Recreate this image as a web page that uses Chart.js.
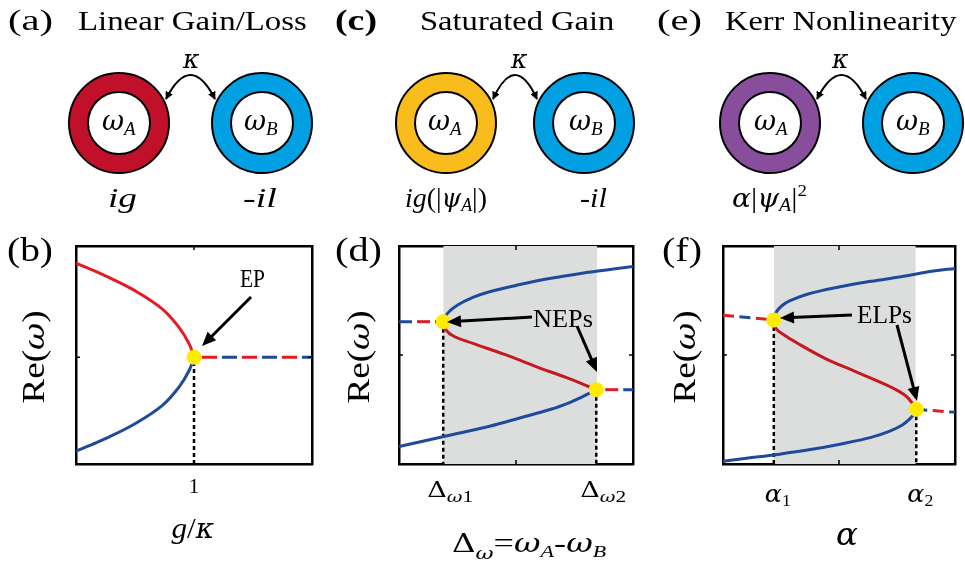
<!DOCTYPE html>
<html>
<head>
<meta charset="utf-8">
<script src="https://cdn.jsdelivr.net/npm/chart.js"></script>
<style>
html, body { margin: 0; padding: 0; background: #fff; }
#wrap { position: relative; width: 965px; height: 563px; overflow: hidden; }
canvas, svg { position: absolute; left: 0; top: 0; }
text { font-family: "Liberation Serif", "Times New Roman", serif; fill: #000; }
</style>
</head>
<body>
<div id="wrap">
  <canvas id="chartB" width="965" height="563"></canvas>
  <canvas id="chartD" width="965" height="563"></canvas>
  <canvas id="chartF" width="965" height="563"></canvas>
  <svg id="art" width="965" height="563" xmlns="http://www.w3.org/2000/svg">
    <defs>
      <marker id="ah" viewBox="0 0 10 10" refX="9" refY="5" markerWidth="4" markerHeight="4" orient="auto-start-reverse">
        <path d="M0,0 L10,5 L0,10 z" fill="#000"/>
      </marker>
    </defs>
  </svg>
</div>
<script>
// ---- panel (b): linear gain / loss, x = g/kappa ----
var bX     = [0, 0.254, 0.492, 0.73, 0.873, 0.96, 1.0];
var bRedY  = [0.863, 0.744, 0.615, 0.444, 0.274, 0.12, 0];
var bBlueY = [-0.863, -0.744, -0.615, -0.444, -0.274, -0.12, 0];
var bDashX = [1, 2];
var bDashY = [0, 0];
var bMarkX = [1];
var bMarkY = [0];
var bTicks = [1];

// ---- panel (d): saturated gain ----
var dUpperX = [0.189, 0.208, 0.249, 0.316, 0.383, 0.516, 0.649, 0.783, 0.916, 1.0];
var dUpperY = [0.653, 0.692, 0.728, 0.764, 0.789, 0.823, 0.852, 0.875, 0.894, 0.906];
var dRedX   = [0.189, 0.2, 0.236, 0.316, 0.448, 0.583, 0.716, 0.783, 0.823, 0.843];
var dRedY   = [0.653, 0.615, 0.585, 0.553, 0.504, 0.448, 0.396, 0.368, 0.349, 0.341];
var dLowerX = [0, 0.116, 0.249, 0.383, 0.516, 0.649, 0.729, 0.783, 0.82, 0.843];
var dLowerY = [0.08, 0.108, 0.14, 0.172, 0.211, 0.251, 0.282, 0.308, 0.328, 0.341];
var dLeftX  = [0, 0.189];
var dLeftY  = [0.653, 0.653];
var dRightX = [0.843, 1];
var dRightY = [0.341, 0.341];
var dMarkX  = [0.189, 0.843];
var dMarkY  = [0.653, 0.341];
var dShade  = [0.189, 0.847];
var dTicks  = [0.189, 0.843];

// ---- panel (f): Kerr nonlinearity ----
var fUpperX = [0.219, 0.23, 0.254, 0.289, 0.37, 0.504, 0.638, 0.773, 0.907, 1.0];
var fUpperY = [0.661, 0.697, 0.726, 0.749, 0.781, 0.813, 0.838, 0.86, 0.885, 0.897];
var fRedX   = [0.219, 0.229, 0.262, 0.316, 0.437, 0.571, 0.706, 0.759, 0.793, 0.82, 0.833];
var fRedY   = [0.661, 0.621, 0.593, 0.557, 0.486, 0.424, 0.362, 0.333, 0.308, 0.272, 0.251];
var fLowerX = [0, 0.101, 0.235, 0.37, 0.504, 0.638, 0.719, 0.773, 0.806, 0.825, 0.833];
var fLowerY = [0.012, 0.026, 0.044, 0.065, 0.091, 0.122, 0.151, 0.179, 0.208, 0.232, 0.251];
var fLeftX  = [0, 0.219];
var fLeftY  = [0.682, 0.661];
var fRightX = [0.833, 1];
var fRightY = [0.251, 0.237];
var fMarkX  = [0.219, 0.833];
var fMarkY  = [0.661, 0.251];
var fShade  = [0.219, 0.831];
var fTicks  = [0.219, 0.833];

var BLUE = '#1f4a9c';
var RED_B = '#e31b23';
var RED = '#c51a20';
var RED_DASH = '#dd1f27';
var YELLOW = '#ffeb00';
var SHADE = '#dcdddd';

function pts(xs, ys) {
    return xs.map(function (x, i) { return { x: x, y: ys[i] }; });
}
function curve(xs, ys, color) {
    return { data: pts(xs, ys), borderColor: color, borderWidth: 3, pointRadius: 0, showLine: true,
        tension: 0.38, order: 2 };
}
function dashed(xs, ys, color, pattern, offset) {
    return { data: pts(xs, ys), borderColor: color, borderWidth: 3, pointRadius: 0, showLine: true,
        borderDash: pattern, borderDashOffset: offset, borderCapStyle: 'butt', order: 3 };
}
function dotted(x, y) {
    return { data: pts([x, x], [y, 0]), borderColor: '#000', borderWidth: 2.5, pointRadius: 0, showLine: true,
        borderDash: [4, 3], borderCapStyle: 'butt', order: 4 };
}
function marks(xs, ys) {
    return { data: pts(xs, ys), pointRadius: 7.5, pointBackgroundColor: YELLOW, pointBorderWidth: 0,
        showLine: false, order: 0 };
}
function shade(range, top) {
    return { data: pts(range, [top, top]), borderWidth: 0, pointRadius: 0, showLine: true,
        fill: 'start', backgroundColor: SHADE, order: 9 };
}

// little inward tick marks on all four sides, MATLAB style
var innerTicks = {
    id: 'innerTicks',
    afterDraw: function (chart, args, opts) {
        var ctx = chart.ctx, a = chart.chartArea;
        ctx.save();
        ctx.strokeStyle = '#000';
        ctx.lineWidth = 1.5;
        ctx.beginPath();
        (opts.x || []).forEach(function (v) {
            var px = chart.scales.x.getPixelForValue(v);
            ctx.moveTo(px, a.bottom); ctx.lineTo(px, a.bottom - 4);
            ctx.moveTo(px, a.top); ctx.lineTo(px, a.top + 4);
        });
        (opts.y || []).forEach(function (v) {
            var py = chart.scales.y.getPixelForValue(v);
            ctx.moveTo(a.left, py); ctx.lineTo(a.left + 4, py);
            ctx.moveTo(a.right, py); ctx.lineTo(a.right - 4, py);
        });
        ctx.stroke();
        ctx.restore();
    }
};

function axis(pos, min, max) {
    return { type: 'linear', position: pos, min: min, max: max,
        ticks: { display: false }, grid: { display: false },
        border: { display: true, color: '#000', width: 2.5 } };
}

function makePanel(id, pad, xr, yr, tickX, tickY, datasets) {
    return new Chart(document.getElementById(id), {
        type: 'scatter',
        data: { datasets: datasets },
        options: {
            responsive: false,
            animation: false,
            devicePixelRatio: 1,
            events: [],
            layout: { padding: pad },
            scales: {
                x: axis('bottom', xr[0], xr[1]),
                y: axis('left', yr[0], yr[1]),
                xTop: axis('top', xr[0], xr[1]),
                yRight: axis('right', yr[0], yr[1])
            },
            plugins: { legend: { display: false }, tooltip: { enabled: false },
                innerTicks: { x: [tickX], y: [tickY] } }
        },
        plugins: [innerTicks]
    });
}

var chartB = makePanel('chartB', { left: 68, right: 645, top: 238, bottom: 91 }, [0, 2], [-0.98, 1.02], 1, 0, [
    marks(bMarkX, bMarkY),
    curve(bX, bRedY, RED_B),
    curve(bX, bBlueY, BLUE),
    dashed(bDashX, bDashY, RED_B, [15, 25], 32),
    dashed(bDashX, bDashY, BLUE, [15, 25], 12),
    dotted(bMarkX[0], -0.98)
]);

var chartD = makePanel('chartD', { left: 391, right: 324, top: 238, bottom: 91 }, [0, 1], [0, 1], 0.5, 0.5, [
    marks(dMarkX, dMarkY),
    curve(dUpperX, dUpperY, BLUE),
    curve(dRedX, dRedY, RED),
    curve(dLowerX, dLowerY, BLUE),
    dashed(dLeftX, dLeftY, BLUE, [13, 23], 0),
    dashed(dLeftX, dLeftY, RED_DASH, [13, 23], 18),
    dashed(dRightX, dRightY, RED_DASH, [13, 23], 27),
    dashed(dRightX, dRightY, BLUE, [13, 23], 9),
    dotted(dMarkX[0], dMarkY[0]),
    dotted(dMarkX[1], dMarkY[1]),
    shade(dShade, 1)
]);

var chartF = makePanel('chartF', { left: 715, right: 2, top: 238, bottom: 91 }, [0, 1], [0, 1], 0.5, 0.5, [
    marks(fMarkX, fMarkY),
    curve(fUpperX, fUpperY, BLUE),
    curve(fRedX, fRedY, RED),
    curve(fLowerX, fLowerY, BLUE),
    dashed(fLeftX, fLeftY, RED_DASH, [11, 22], 0),
    dashed(fLeftX, fLeftY, BLUE, [11, 22], 16.5),
    dashed(fRightX, fRightY, BLUE, [11, 22], 0),
    dashed(fRightX, fRightY, RED_DASH, [11, 22], 16.5),
    dotted(fMarkX[0], fMarkY[0]),
    dotted(fMarkX[1], fMarkY[1]),
    shade(fShade, 1)
]);

// ---- svg drawing: rings, arrows, text ----
var SVGNS = 'http://www.w3.org/2000/svg';
var art = document.getElementById('art');
var GREEK = /[\u0370-\u03ff]/;

function el(name, attrs) {
    var e = document.createElementNS(SVGNS, name);
    for (var k in attrs) e.setAttribute(k, attrs[k]);
    art.appendChild(e);
    return e;
}

function ring(cx, cy, color) {
    el('circle', { cx: cx, cy: cy, r: 50, fill: color, stroke: '#000', 'stroke-width': 2 });
    el('circle', { cx: cx, cy: cy, r: 31, fill: '#fff', stroke: '#000', 'stroke-width': 2 });
}

function coupling(x1, x2, y) {
    var mx = (x1 + x2) / 2;
    el('path', { d: 'M' + x1 + ',' + y + ' Q' + mx + ',' + (y - 48) + ' ' + x2 + ',' + y,
        fill: 'none', stroke: '#000', 'stroke-width': 2,
        'marker-start': 'url(#ah)', 'marker-end': 'url(#ah)' });
}

function arrow(x1, y1, x2, y2) {
    var dx = x2 - x1, dy = y2 - y1, L = Math.sqrt(dx * dx + dy * dy);
    var ux = dx / L, uy = dy / L, hl = 14, hw = 6;
    el('line', { x1: x1, y1: y1, x2: x2 - ux * (hl - 3), y2: y2 - uy * (hl - 3), stroke: '#000', 'stroke-width': 3 });
    var bx = x2 - ux * hl, by = y2 - uy * hl;
    el('polygon', { points: [x2, y2, bx - uy * hw, by + ux * hw, bx + uy * hw, by - ux * hw].join(','), fill: '#000' });
}

function addText(spec) {
    var g = el('g', {});
    var t = document.createElementNS(SVGNS, 'text');
    var shift = 0;
    spec.parts.forEach(function (p) {
        var s = document.createElementNS(SVGNS, 'tspan');
        var size = p.s || spec.size;
        s.textContent = p.t;
        if (GREEK.test(p.t)) {
            s.setAttribute('font-family', '"DejaVu Serif", serif');
            size = size * 0.9;
        }
        s.setAttribute('font-size', size);
        if (p.i) s.setAttribute('font-style', 'italic');
        if (p.b) s.setAttribute('font-weight', 'bold');
        var d = (p.dy || 0) - shift;
        if (d) s.setAttribute('dy', d);
        shift = p.dy || 0;
        t.appendChild(s);
    });
    g.appendChild(t);
    var w = t.getBBox().width;
    var target = spec.x1 !== undefined ? spec.x1 - spec.x0 : (spec.w || w);
    var sx = target / w;
    if (spec.rot) {
        g.setAttribute('transform', 'translate(' + spec.bx + ',' + spec.cy + ') rotate(-90) translate(' + (-target / 2) + ',0) scale(' + sx + ',1)');
    } else {
        var left = spec.x0 !== undefined ? spec.x0 : spec.cx - target / 2;
        g.setAttribute('transform', 'translate(' + left + ',' + spec.base + ') scale(' + sx + ',1)');
    }
}

ring(119, 123, '#c1112a'); ring(262, 123, '#00a0e3');
ring(446, 123, '#f8bd1c'); ring(584, 123, '#00a0e3');
ring(770, 123, '#894e9b'); ring(913, 123, '#00a0e3');
coupling(166, 215, 99);
coupling(493, 537, 99);
coupling(817, 866, 99);

arrow(251, 297, 202, 346);
arrow(532, 317, 447, 322);
arrow(577, 326, 597, 372);
arrow(852, 315, 780, 318);
arrow(897, 325, 917, 401);

var wA = function (cx) { return { cx: cx, base: 130, size: 30, parts: [{ t: 'ω', i: 1 }, { t: 'A', i: 1, s: 19, dy: 5 }] }; };
var wB = function (cx) { return { cx: cx, base: 130, size: 30, parts: [{ t: 'ω', i: 1 }, { t: 'B', i: 1, s: 19, dy: 5 }] }; };
var reW = function (bx) { return { rot: 1, bx: bx, cy: 357, x0: 0, x1: 93, size: 31,
    parts: [{ t: 'Re(' }, { t: 'ω', i: 1 }, { t: ')' }] }; };

[
    { x0: 8, x1: 53, base: 30, size: 29, parts: [{ t: '(a)' }] },
    { x0: 78, x1: 307, base: 30, size: 27, parts: [{ t: 'Linear Gain/Loss' }] },
    { x0: 335, x1: 377, base: 30, size: 29, parts: [{ t: '(c)', b: 1 }] },
    { x0: 420, x1: 615, base: 30, size: 27, parts: [{ t: 'Saturated Gain' }] },
    { x0: 657, x1: 702, base: 30, size: 29, parts: [{ t: '(e)' }] },
    { x0: 725, x1: 957, base: 30, size: 27, parts: [{ t: 'Kerr Nonlinearity' }] },
    { cx: 192, base: 68, size: 28, parts: [{ t: 'κ', i: 1 }] },
    { cx: 520, base: 68, size: 28, parts: [{ t: 'κ', i: 1 }] },
    { cx: 841, base: 68, size: 28, parts: [{ t: 'κ', i: 1 }] },
    wA(119), wB(261), wA(445), wB(586), wA(771), wB(913),
    { x0: 108, x1: 137, base: 207, size: 28, parts: [{ t: 'ig', i: 1 }] },
    { x0: 243, x1: 277, base: 207, size: 28, parts: [{ t: '-il', i: 1 }] },
    { x0: 405, x1: 487, base: 207, size: 28, parts: [{ t: 'ig', i: 1 }, { t: '(|' }, { t: 'ψ', i: 1 },
        { t: 'A', i: 1, s: 18, dy: 4 }, { t: '|)' }] },
    { x0: 580, x1: 607, base: 207, size: 28, parts: [{ t: '-il', i: 1 }] },
    { x0: 732, x1: 807, base: 207, size: 28, parts: [{ t: 'α', i: 1 }, { t: '|' }, { t: 'ψ', i: 1 },
        { t: 'A', i: 1, s: 18, dy: 4 }, { t: '|' }, { t: '2', s: 17, dy: -11 }] },
    { x0: 7, x1: 53, base: 261, size: 33, parts: [{ t: '(b)' }] },
    { x0: 335, x1: 382, base: 261, size: 33, parts: [{ t: '(d)' }] },
    { x0: 662, x1: 702, base: 261, size: 33, parts: [{ t: '(f)' }] },
    reW(44), reW(369), reW(695),
    { x0: 240, x1: 265, base: 287, size: 25, parts: [{ t: 'EP' }] },
    { x0: 533, x1: 593, base: 327, size: 25, parts: [{ t: 'NEPs' }] },
    { x0: 857, x1: 912, base: 323, size: 25, parts: [{ t: 'ELPs' }] },
    { cx: 193, w: 43, base: 538, size: 30, parts: [{ t: 'g', i: 1 }, { t: '/' }, { t: 'κ', i: 1 }] },
    { cx: 847, base: 545, size: 36, parts: [{ t: 'α', i: 1 }] },
    { x0: 452, x1: 607, base: 552, size: 28, parts: [{ t: 'Δ' }, { t: 'ω', i: 1, s: 19, dy: 7 },
        { t: '=' }, { t: 'ω', i: 1 }, { t: 'A', i: 1, s: 17, dy: 5 }, { t: '-' },
        { t: 'ω', i: 1 }, { t: 'B', i: 1, s: 17, dy: 5 }] }
].forEach(addText);

// tick labels placed from the chart scales
bTicks.forEach(function (v) {
    addText({ cx: chartB.scales.x.getPixelForValue(v), base: 493, size: 21, parts: [{ t: '1' }] });
});
dTicks.forEach(function (v, i) {
    addText({ cx: chartD.scales.x.getPixelForValue(v) + 7, w: 46, base: 497, size: 24,
        parts: [{ t: 'Δ' }, { t: 'ω', i: 1, s: 17, dy: 5 }, { t: String(i + 1), s: 17, dy: 5 }] });
});
fTicks.forEach(function (v, i) {
    addText({ cx: chartF.scales.x.getPixelForValue(v) + 4, w: 26, base: 502, size: 27,
        parts: [{ t: 'α', i: 1 }, { t: String(i + 1), s: 17, dy: 4 }] });
});
</script>
</body>
</html>
